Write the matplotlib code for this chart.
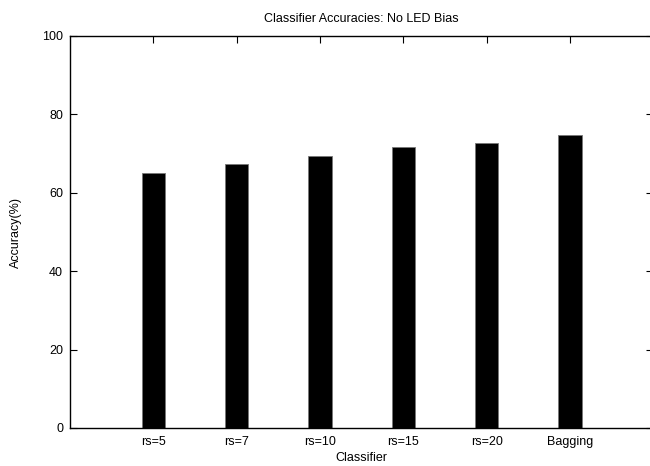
import matplotlib.pyplot as plt
import numpy as np

plt.rcParams['font.family'] = ['Liberation Sans', 'DejaVu Sans']

# accuracy per classifier, no LED bias
classifiers = ['rs=5', 'rs=7', 'rs=10', 'rs=15', 'rs=20', 'Bagging']
accuracy = [65.0, 67.3, 69.5, 71.6, 72.7, 74.7]

fig = plt.figure(figsize=(6.5, 4.66), dpi=100)
ax = fig.add_axes([70 / 650, 38 / 466, 583.3 / 650, 392 / 466])

x = np.arange(1, len(classifiers) + 1)
ax.bar(x, accuracy, width=0.28, color='black', edgecolor='#777777', linewidth=0.6)

ax.set_xlim(0, 7)
ax.set_ylim(0, 100)
ax.set_xticks(x)
ax.set_xticklabels(classifiers)
ax.set_yticks(np.arange(0, 101, 20))

# gnuplot-like inward ticks on all four sides
ax.tick_params(direction='in', length=5, width=0.8, labelsize=9,
               top=True, right=True, pad=5)
ax.tick_params(axis='x', pad=6)
for s in ax.spines.values():
    s.set_linewidth(1.0)

ax.set_title('Classifier Accuracies: No LED Bias', fontsize=9, pad=10)
ax.set_xlabel('Classifier', fontsize=9)
ax.set_ylabel('Accuracy(%)', fontsize=9)
ax.xaxis.set_label_coords(0.5, -0.062)
ax.yaxis.set_label_coords(-0.082, 0.5)

fig.savefig('out.png', dpi=100)
